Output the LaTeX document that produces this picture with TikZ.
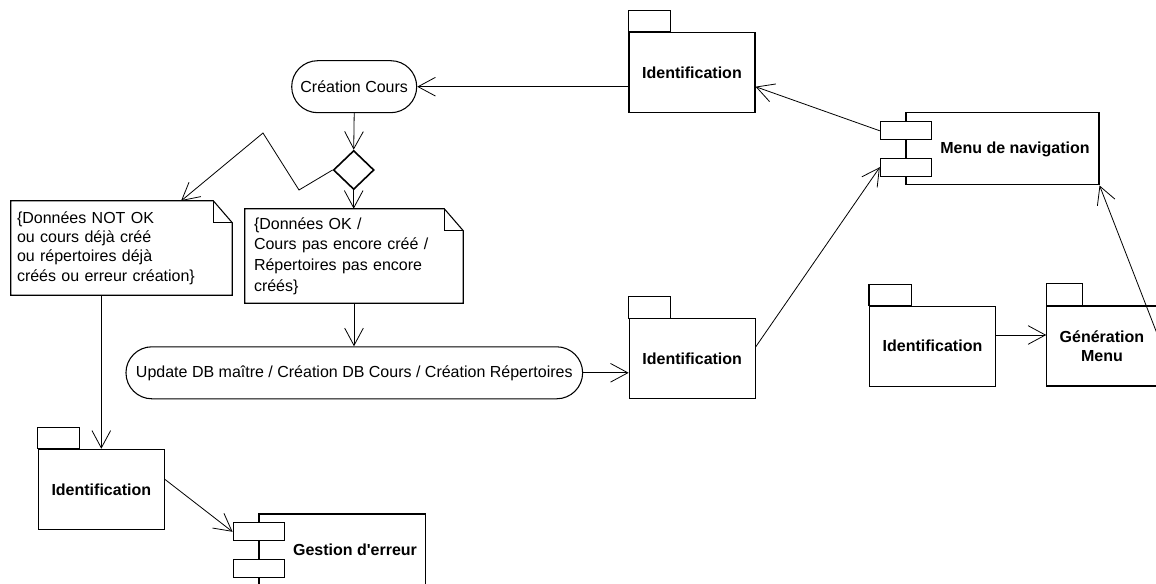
\documentclass[tikz,border=0pt]{standalone}
\usepackage{fontspec}
\setmainfont{Liberation Sans}
\usetikzlibrary{arrows.meta,shapes.geometric,calc}
% package tab: node name, width and height of the tab (in px units)
\newcommand\pkgtab[3]{\draw[box] (#1.north west) rectangle ++(#2,-#3);}
% note outline with folded corner
\newcommand\noteframe[1]{%
  \draw[box] (#1.north west) -- ([xshift=-14.25pt]#1.north east)
    -- ([yshift=-16.5pt]#1.north east) -- (#1.south east) -- (#1.south west) -- cycle;
  \draw[box] ([xshift=-14.25pt]#1.north east) -- ([xshift=-14.25pt,yshift=-16.5pt]#1.north east)
    -- ([yshift=-16.5pt]#1.north east);}
\begin{document}
\begin{tikzpicture}[x=0.75pt,y=-0.75pt,
  every node/.style={font=\fontsize{12}{14}\selectfont},
  box/.style={draw, line width=0.8pt, inner sep=0pt},
  pkg/.style={box, minimum width=94.5pt, minimum height=60pt,
    font=\fontsize{12}{14.5}\selectfont\bfseries, align=center},
  capsule/.style={box, rounded corners=19.5pt, minimum height=39pt},
  port/.style={box, fill=white, minimum width=38.5pt, minimum height=13.7pt},
  comp/.style={box, fill=white},
  notetext/.style={inner ysep=0pt, minimum height=70.5pt, align=left},
  bold/.style={font=\fontsize{12}{14}\selectfont\bfseries},
  link/.style={line width=0.6pt, -{Straight Barb[length=13pt,width=14pt]}},
  seg/.style={line width=0.6pt}
]
\useasboundingbox (0,0) rectangle (1156,584);
\clip (0,0) rectangle (1156,584);

% activity flow
\node[capsule, minimum width=93.75pt] (cc) at (354.2,86.7) {Création Cours};
\node[draw, diamond, line width=1.2pt, inner sep=0pt, minimum width=30.5pt,
  minimum height=29.3pt] (dec) at (353.7,170) {};
\node[notetext, text width=156.75pt, inner xsep=4.5pt,
  font=\fontsize{12}{14.6}\selectfont] (note1) at (121.5,248)
  {\{Données NOT OK\\ou cours déjà créé\\ou répertoires déjà\\créés ou erreur création\}};
\noteframe{note1}
\node[notetext, text width=150pt, inner xsep=6.75pt,
  font=\fontsize{12}{15.4}\selectfont] (note2) at (354,256)
  {\{Données OK /\\Cours pas encore créé /\\Répertoires pas encore\\créés\}};
\noteframe{note2}
\node[capsule, minimum width=342.5pt] (upd) at (354.3,372.8)
  {Update DB maître / Création DB Cours / Création Répertoires};

% packages
\node[pkg] (pkgTop) at (692,72.3) {Identification};
\pkgtab{pkgTop}{42}{21.6}
\node[pkg] (pkgMid) at (692.2,358.8) {Identification};
\pkgtab{pkgMid}{41.7}{22}
\node[pkg] (pkgBL) at (101.3,489.3) {Identification};
\pkgtab{pkgBL}{42}{21.6}
\node[pkg] (pkgR) at (932.5,346.2) {Identification};
\pkgtab{pkgR}{42.4}{21.4}
\node[pkg, minimum width=82.7pt] (gen) at (1101.9,346) {Génération\\Menu};
\pkgtab{gen}{36.6}{21.7}

% components
\node[comp, minimum width=144.75pt, minimum height=54.2pt] (menu) at (1002.5,148.8) {};
\node[port] (menuA) at (906,130.8) {};
\node[port] (menuB) at (906,167.2) {};
\node[bold] (menuLbl) at (1015,149) {Menu de navigation};

\node[comp, minimum width=125pt, minimum height=68.25pt] (gest) at (342.3,559.5) {};
\node[port] (gestA) at (258.8,531.8) {};
\node[port] (gestB) at (258.8,568.2) {};
\node[bold] (gestLbl) at (355,550) {Gestion d\textquotesingle erreur};

% connectors
\draw[link] (pkgTop.west |- cc.east) -- (cc.east);
\draw[link] (cc.south) -- (dec.north);
\coordinate (b1) at (299,190);
\coordinate (b2) at (263,133);
\coordinate (n1in) at (181,201);
\draw[link] (dec.west) -- (b1) -- (b2) -- (n1in);
\draw[link] (dec.south) -- (dec.south |- note2.north);
\draw[link] (pkgBL.north |- note1.south) -- (pkgBL.north);
\draw[link] (note2.south) -- (note2.south |- upd.north);
\draw[link] (upd.east) -- (pkgMid.west |- upd.east);
\draw[link] ([yshift=9pt]pkgMid.east) -- (menuB.west);
\draw[link] (menuA.west) -- ([yshift=-10.8pt]pkgTop.east);
\draw[link] ([yshift=7.5pt]pkgBL.east) -- (gestA.west);
\coordinate (rOut) at ([yshift=8.4pt]pkgR.east);
\draw[link] (rOut) -- (gen.west |- rOut);
\draw[link] ([yshift=8.25pt]gen.east) -- (menu.south east);
\end{tikzpicture}
\end{document}
